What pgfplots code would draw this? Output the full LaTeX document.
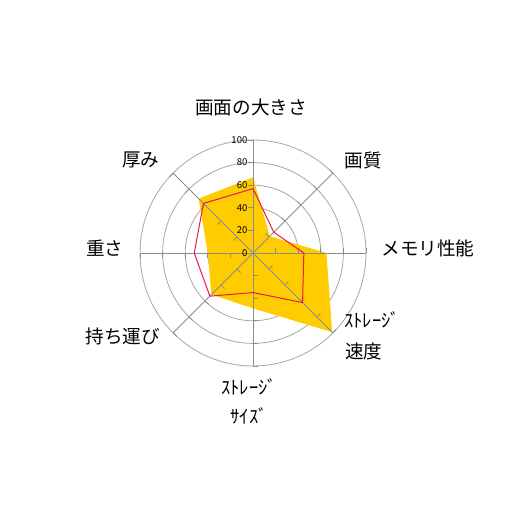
\documentclass[border=0pt]{standalone}
\usepackage{pgfplots}
\pgfplotsset{compat=1.18}
\usepgfplotslibrary{polar}
\usetikzlibrary{calc}
\usepackage{fontspec}
\setmainfont{Noto Sans CJK JP}
\definecolor{fillY}{HTML}{FFCC00}
\definecolor{lineR}{HTML}{E6194B}
\definecolor{spoke}{HTML}{8C8C8C}
\definecolor{ring}{HTML}{A6A6A6}
\newcommand\lab{\fontsize{18.6bp}{22bp}\selectfont}
\newcommand\tlab{\fontsize{9.5bp}{10bp}\selectfont}

\begin{document}
\begin{tikzpicture}
\path[use as bounding box] (0,0) rectangle (506bp,506bp);
\begin{polaraxis}[
  at={(253bp,253bp)}, anchor=center,
  scale only axis, width=226bp, height=226bp,
  xmin=0, xmax=360, ymin=0, ymax=100,
  xtick=\empty, ytick={40,60,80}, yticklabels={,,},
  major tick length=0pt,
  ymajorgrids, major grid style={ring, line width=0.8bp},
  axis line style={ring, line width=0.8bp},
  clip=false,
]
% series 1 (filled)
\addplot[draw=none, fill=fillY] coordinates {
  (90,67) (45,21) (0,65) (315,99) (270,49) (225,52) (180,40) (135,68) (90,67)};

% spokes and their ticks
\pgfplotsinvokeforeach{0,45,90,135,180,225,270,315}{
  \draw[spoke, line width=0.8bp] (axis cs:0,0) -- (axis cs:#1,100);
  \foreach \r in {20,40,60,80,100}{
    \edef\temp{\noexpand\draw[spoke, line width=0.8bp] (axis cs:#1,\r) -- ++({#1+90}:5bp);}
    \temp
  }
}

% series 2 (line)
\addplot[lineR, line width=1bp] coordinates {
  (90,57) (45,26) (0,45) (315,62) (270,35) (225,54) (180,52) (135,62) (90,57)};

% radial tick labels
\pgfplotsinvokeforeach{0,20,40,60,80,100}{
  \node[anchor=east, inner sep=0pt, font=\tlab, xshift=-5.5bp] at (axis cs:90,#1) {#1};
}

% category labels
\node[font=\lab, inner sep=0pt] at ($(axis cs:0,0)+(-2bp,146bp)$) {画面の大きさ};
\node[font=\lab, inner sep=0pt] at ($(axis cs:0,0)+(110bp,93bp)$) {画質};
\node[font=\lab, inner sep=0pt] at ($(axis cs:0,0)+(175bp,5bp)$) {メモリ性能};
\node[font=\lab, inner sep=0pt, anchor=west] at ($(axis cs:0,0)+(91bp,-67bp)$) {ｽﾄﾚｰｼﾞ};
\node[font=\lab, inner sep=0pt, anchor=west] at ($(axis cs:0,0)+(92bp,-98bp)$) {速度};
\node[font=\lab, inner sep=0pt] at ($(axis cs:0,0)+(-4bp,-134bp)$) {ｽﾄﾚｰｼﾞ};
\node[font=\lab, inner sep=0pt] at ($(axis cs:0,0)+(-4bp,-163bp)$) {ｻｲｽﾞ};
\node[font=\lab, inner sep=0pt] at ($(axis cs:0,0)+(-130bp,-83bp)$) {持ち運び};
\node[font=\lab, inner sep=0pt] at ($(axis cs:0,0)+(-148bp,5bp)$) {重さ};
\node[font=\lab, inner sep=0pt] at ($(axis cs:0,0)+(-112bp,93bp)$) {厚み};
\end{polaraxis}
\end{tikzpicture}
\end{document}
